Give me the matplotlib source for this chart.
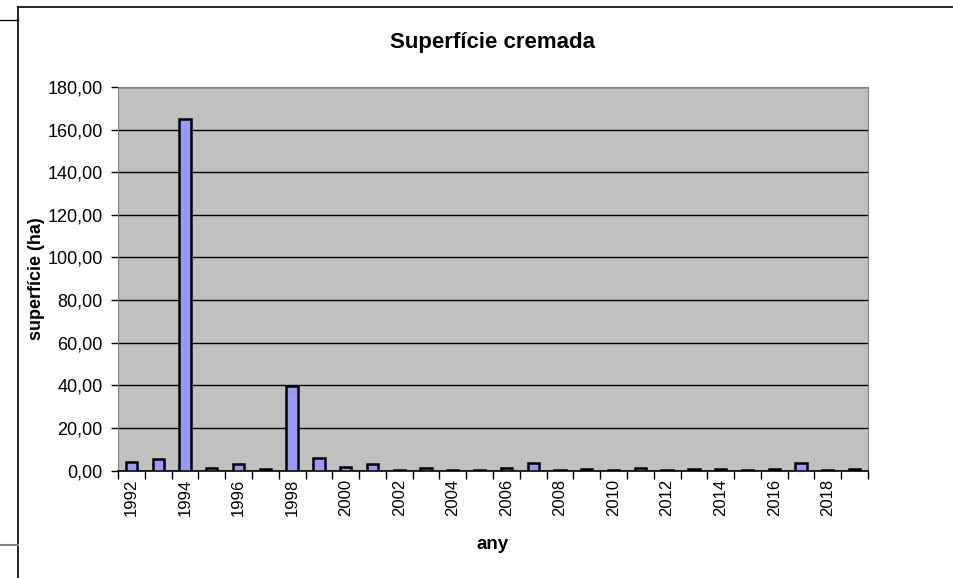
import matplotlib
matplotlib.use('Agg')
import matplotlib.pyplot as plt
from matplotlib.lines import Line2D

# Dades: superfície cremada per any (ha)
anys = list(range(1992, 2020))
superficie = [4.2, 5.2, 165.0, 1.4, 3.1, 0.7, 39.5, 5.8, 1.7, 3.1,
              0.4, 1.3, 0.4, 0.4, 1.3, 3.4, 0.3, 0.8, 0.3, 1.3,
              0.3, 0.8, 0.8, 0.3, 0.7, 3.4, 0.3, 0.8]
y_ticks = [0, 20, 40, 60, 80, 100, 120, 140, 160, 180]

plt.rcParams['font.family'] = ['Liberation Sans', 'DejaVu Sans']

fig = plt.figure(figsize=(9.54, 5.78), dpi=100)
ax = fig.add_axes([118/954, 1 - 470.5/578, 750/954, 383.5/578])

pos = list(range(len(anys)))
ax.bar(pos, superficie, width=0.42, color='#9999FF', edgecolor='black', linewidth=1.8, zorder=3)

ax.set_facecolor('#C0C0C0')
ax.set_xlim(-0.5, len(anys) - 0.5)
ax.set_ylim(0, 180)
ax.set_yticks(y_ticks)
ax.set_yticklabels([f'{v:.2f}'.replace('.', ',') for v in y_ticks], fontsize=13)
ax.yaxis.grid(True, color='black', linewidth=1)
ax.set_axisbelow(True)
ax.tick_params(axis='y', direction='out', length=5, width=1, pad=6)

# etiquetes cada dos anys, marques entre categories
ax.set_xticks(pos[::2])
ax.set_xticklabels([str(a) for a in anys[::2]], rotation=90, fontsize=12)
ax.set_xticks([p - 0.5 for p in pos] + [len(anys) - 0.5], minor=True)
ax.tick_params(axis='x', which='major', length=0, pad=6)
ax.tick_params(axis='x', which='minor', direction='out', length=6, width=1)

for s in ['top', 'right', 'left']:
    ax.spines[s].set_color('#808080')
ax.spines['bottom'].set_color('black')
ax.spines['bottom'].set_linewidth(1.2)

ax.set_title('Superfície cremada', fontsize=16, fontweight='bold', pad=28)
ax.set_ylabel('superfície (ha)', fontsize=13, fontweight='bold', labelpad=2)
ax.set_xlabel('any', fontsize=13.5, fontweight='bold', labelpad=14)

# marc del gràfic
fig.add_artist(Line2D([18/954, 18/954], [0, 1 - 7/578], color='black', linewidth=1.2))
fig.add_artist(Line2D([18/954, 1], [1 - 7/578, 1 - 7/578], color='black', linewidth=1.2))
fig.add_artist(Line2D([0, 18/954], [1 - 20/578, 1 - 20/578], color='black', linewidth=1))
fig.add_artist(Line2D([0, 18/954], [1 - 545/578, 1 - 545/578], color='#808080', linewidth=1.5))

fig.savefig('out.png', dpi=100)
